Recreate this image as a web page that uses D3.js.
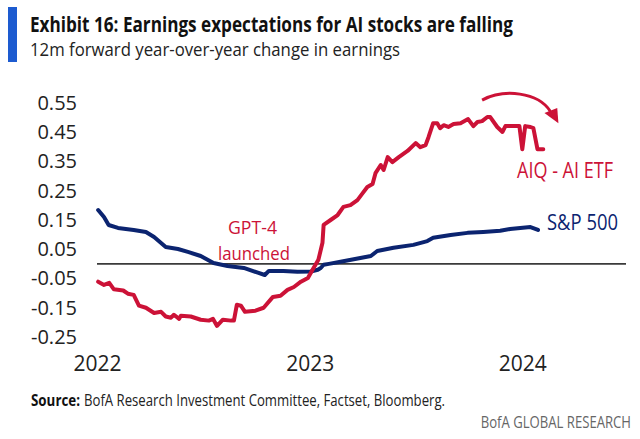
<!DOCTYPE html>
<html>
<head>
<meta charset="utf-8">
<script src="https://cdn.jsdelivr.net/npm/d3@7"></script>
<style>
  html, body { margin: 0; padding: 0; background: #fff; }
  svg { display: block; font-family: "Open Sans", "Noto Sans", sans-serif; }
</style>
</head>
<body>
<svg id="chart" width="640" height="439"></svg>
<script>
// ---------------- DATA ----------------
const yTicks = [-0.25, -0.15, -0.05, 0.05, 0.15, 0.25, 0.35, 0.45, 0.55];
const xTickYears = [2022, 2023, 2024];

const spxDates = ["2022-01-03","2022-01-13","2022-01-21","2022-02-06","2022-03-05","2022-03-26","2022-04-09","2022-04-29","2022-05-20","2022-06-06","2022-06-28","2022-07-20","2022-08-13","2022-09-10","2022-10-04","2022-10-16","2022-10-23","2022-11-17","2022-12-11","2023-01-03","2023-01-15","2023-01-20","2023-01-25","2023-02-03","2023-02-23","2023-03-29","2023-04-16","2023-04-27","2023-05-25","2023-06-28","2023-07-22","2023-08-01","2023-08-31","2023-09-29","2023-10-26","2023-11-24","2023-12-11","2024-01-15","2024-01-28"];
const spxValues = [0.184,0.16,0.133,0.123,0.116,0.109,0.092,0.058,0.051,0.041,0.027,0.003,-0.007,-0.014,-0.03,-0.038,-0.024,-0.024,-0.027,-0.026,-0.02,-0.014,-0.003,0.0,0.007,0.02,0.027,0.044,0.055,0.065,0.078,0.089,0.099,0.106,0.109,0.113,0.119,0.126,0.116];

const aiqDates = ["2022-01-03","2022-01-13","2022-01-22","2022-01-30","2022-02-15","2022-02-23","2022-03-05","2022-03-14","2022-03-26","2022-04-09","2022-04-21","2022-04-29","2022-05-08","2022-05-13","2022-05-22","2022-05-25","2022-06-11","2022-06-28","2022-07-12","2022-07-19","2022-07-26","2022-08-05","2022-08-19","2022-08-24","2022-08-29","2022-09-05","2022-09-12","2022-09-30","2022-10-14","2022-10-30","2022-11-12","2022-11-24","2022-12-05","2022-12-17","2022-12-29","2023-01-06","2023-01-16","2023-01-23","2023-01-25","2023-02-06","2023-02-18","2023-02-28","2023-03-12","2023-03-24","2023-04-02","2023-04-10","2023-04-19","2023-04-24","2023-05-03","2023-05-08","2023-05-15","2023-05-23","2023-06-03","2023-06-18","2023-07-02","2023-07-10","2023-07-19","2023-07-24","2023-08-01","2023-08-08","2023-08-13","2023-08-19","2023-08-27","2023-09-05","2023-09-17","2023-09-30","2023-10-09","2023-10-16","2023-10-24","2023-11-02","2023-11-07","2023-11-19","2023-11-28","2023-12-03","2023-12-17","2023-12-27","2024-01-01","2024-01-06","2024-01-15","2024-01-20","2024-01-27","2024-02-06"];
const aiqValues = [-0.061,-0.072,-0.065,-0.087,-0.091,-0.102,-0.106,-0.143,-0.15,-0.168,-0.164,-0.18,-0.184,-0.174,-0.188,-0.177,-0.18,-0.191,-0.194,-0.188,-0.212,-0.191,-0.194,-0.194,-0.14,-0.143,-0.164,-0.16,-0.15,-0.113,-0.109,-0.089,-0.079,-0.061,-0.048,-0.02,0.014,0.072,0.133,0.15,0.167,0.195,0.201,0.218,0.242,0.263,0.273,0.31,0.338,0.321,0.365,0.348,0.365,0.386,0.413,0.399,0.406,0.433,0.481,0.481,0.464,0.474,0.468,0.478,0.481,0.495,0.471,0.485,0.488,0.502,0.502,0.468,0.451,0.471,0.471,0.471,0.392,0.471,0.468,0.464,0.392,0.392];

// annotation anchors (data units)
const arrowDates = ["2023-10-24","2023-12-01","2024-01-28","2024-02-18"];
const arrowValues = [0.56, 0.60, 0.587, 0.522];
const arrowHeadDates = ["2024-02-08","2024-03-01","2024-03-03"];
const arrowHeadValues = [0.516, 0.533, 0.481];

// ---------------- SETUP ----------------
const parse = d3.timeParse("%Y-%m-%d");
const svg = d3.select("#chart");
const RED = "#cc1237", NAVY = "#0b2470";

const x = d3.scaleTime()
  .domain([new Date(2022, 0, 1), new Date(2024, 5, 27)])
  .range([97, 626]);
const y = d3.scaleLinear().domain([-0.25, 0.55]).range([337, 103]);

const spx = spxDates.map((d, i) => ({ date: parse(d), value: spxValues[i] }));
const aiq = aiqDates.map((d, i) => ({ date: parse(d), value: aiqValues[i] }));

// ---------------- HEADER ----------------
svg.append("rect").attr("x", 8).attr("y", 7).attr("width", 9).attr("height", 55).attr("fill", "#1d5bd0");

function fitText(sel, len) {
  sel.attr("textLength", len).attr("lengthAdjust", "spacingAndGlyphs");
  return sel;
}
fitText(svg.append("text").attr("x", 30).attr("y", 32)
  .attr("font-size", 21).attr("font-weight", 700).attr("fill", "#111")
  .text("Exhibit 16: Earnings expectations for AI stocks are falling"), 483);
fitText(svg.append("text").attr("x", 30).attr("y", 56)
  .attr("font-size", 19).attr("fill", "#222")
  .text("12m forward year-over-year change in earnings"), 370);

// ---------------- AXES ----------------
const fmt = v => d3.format(".2f")(v).replace("\u2212", "-");
const yAxis = svg.append("g").attr("transform", `translate(${x.range()[0]},0)`)
  .call(d3.axisLeft(y).tickValues(yTicks).tickSize(0).tickPadding(20).tickFormat(fmt));
yAxis.select(".domain").remove();
yAxis.selectAll("text").attr("font-size", 20).attr("fill", "#222")
  .attr("font-family", "'Open Sans', sans-serif");

const xAxis = svg.append("g").attr("transform", `translate(0,${y.range()[0]})`)
  .call(d3.axisBottom(x).tickValues(xTickYears.map(yr => new Date(yr, 0, 1)))
    .tickSize(0).tickFormat(d3.timeFormat("%Y")));
xAxis.select(".domain").remove();
xAxis.selectAll("text").attr("y", 34).attr("dy", 0).attr("font-size", 21).attr("fill", "#222")
  .attr("font-family", "'Open Sans', sans-serif");

// zero line
svg.append("line")
  .attr("x1", x.range()[0]).attr("x2", x.range()[1])
  .attr("y1", y(0)).attr("y2", y(0))
  .attr("stroke", "#3a3a3a").attr("stroke-width", 1.8);

// ---------------- LINES ----------------
const line = d3.line().x(d => x(d.date)).y(d => y(d.value));
svg.append("path").datum(spx).attr("d", line)
  .attr("fill", "none").attr("stroke", NAVY).attr("stroke-width", 4)
  .attr("stroke-linejoin", "round").attr("stroke-linecap", "round");
svg.append("path").datum(aiq).attr("d", line)
  .attr("fill", "none").attr("stroke", RED).attr("stroke-width", 4)
  .attr("stroke-linejoin", "round").attr("stroke-linecap", "round");

// ---------------- ANNOTATIONS ----------------
const ap = arrowDates.map((d, i) => [x(parse(d)), y(arrowValues[i])]);
const p = d3.path();
p.moveTo(ap[0][0], ap[0][1]);
p.bezierCurveTo(ap[1][0], ap[1][1], ap[2][0], ap[2][1], ap[3][0], ap[3][1]);
svg.append("path").attr("d", p.toString()).attr("fill", "none")
  .attr("stroke", RED).attr("stroke-width", 3);
const ah = arrowHeadDates.map((d, i) => [x(parse(d)), y(arrowHeadValues[i])]);
svg.append("polygon").attr("points", ah.map(q => q.join(",")).join(" ")).attr("fill", RED);

fitText(svg.append("text").attr("x", 517).attr("y", 178).attr("font-size", 21).attr("fill", RED)
  .text("AIQ - AI ETF"), 96);
fitText(svg.append("text").attr("x", 547).attr("y", 230).attr("font-size", 21).attr("fill", NAVY)
  .text("S&P 500"), 71);
fitText(svg.append("text").attr("x", 228).attr("y", 234).attr("font-size", 19).attr("fill", RED)
  .text("GPT-4"), 49);
fitText(svg.append("text").attr("x", 218).attr("y", 260).attr("font-size", 19).attr("fill", RED)
  .text("launched"), 72);

// ---------------- FOOTER ----------------
fitText(svg.append("text").attr("x", 31).attr("y", 406).attr("font-size", 16).attr("font-weight", 700)
  .attr("fill", "#111").text("Source:"), 49);
fitText(svg.append("text").attr("x", 84).attr("y", 406).attr("font-size", 16).attr("fill", "#222")
  .text("BofA Research Investment Committee, Factset, Bloomberg."), 361);
svg.append("text").attr("transform", "translate(631,428) scale(0.82,1)")
  .attr("font-size", 16).attr("fill", "#666")
  .attr("text-anchor", "end").text("BofA GLOBAL RESEARCH");
</script>
</body>
</html>
